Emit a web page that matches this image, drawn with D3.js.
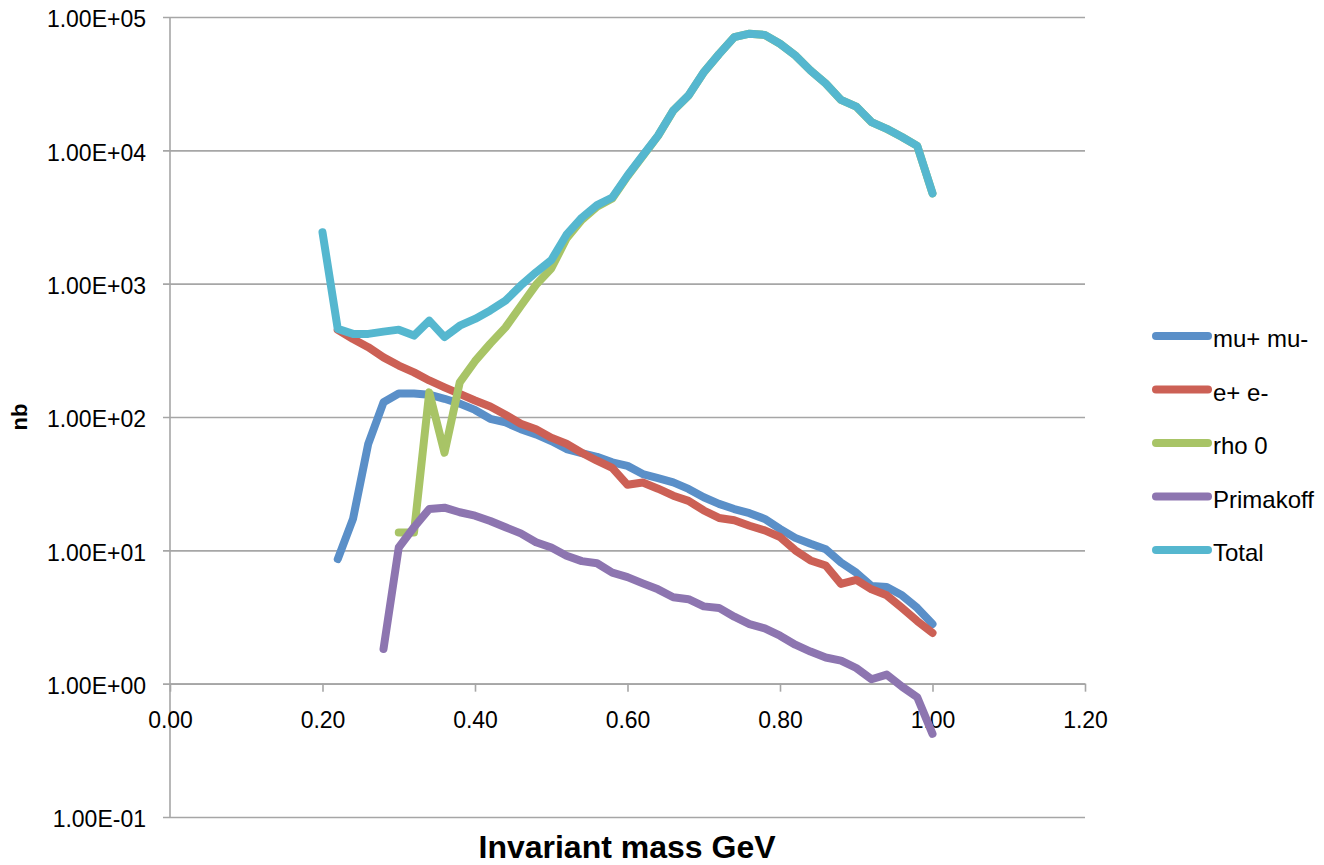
<!DOCTYPE html>
<html>
<head>
<meta charset="utf-8">
<script src="https://cdn.jsdelivr.net/npm/d3@7"></script>
<style>
  html, body { margin: 0; padding: 0; background: #fff; }
  svg { display: block; font-family: "Liberation Sans", Arial, sans-serif; }
</style>
</head>
<body>
<svg id="chart" width="1324" height="865"></svg>
<script>
// Invariant mass bins (GeV)
const mass = [0.20, 0.22, 0.24, 0.26, 0.28, 0.30, 0.32, 0.34, 0.36, 0.38,
              0.40, 0.42, 0.44, 0.46, 0.48, 0.50, 0.52, 0.54, 0.56, 0.58,
              0.60, 0.62, 0.64, 0.66, 0.68, 0.70, 0.72, 0.74, 0.76, 0.78,
              0.80, 0.82, 0.84, 0.86, 0.88, 0.90, 0.92, 0.94, 0.96, 0.98, 1.00];

// Cross sections in nb (null = no entry for that bin)
const muMu = [null, 8.6, 17.2, 63, 129, 150, 150, 147, 137, 126,
              113, 97, 91, 81, 74, 66, 57.5, 53.5, 50.3, 45.7,
              43, 37.3, 34.8, 32.3, 28.9, 25, 22.3, 20.4, 19, 17.2,
              14.5, 12.4, 11.2, 10.2, 8.1, 6.8, 5.4, 5.3, 4.6, 3.7, 2.8];

const eE = [null, 450, 385, 334, 280, 243, 216, 188, 167, 149,
            133, 120, 104, 89, 81, 70, 63, 54, 47, 41.5,
            31, 32.3, 29, 25.7, 23.5, 19.9, 17.5, 16.8, 15.3, 14.1,
            12.6, 10, 8.4, 7.7, 5.6, 6.0, 5.1, 4.6, 3.7, 2.95, 2.4];

const rho0 = [null, null, null, null, null, 13.6, 13.6, 153, 54, 182,
              262, 355, 470, 680, 980, 1300, 2180, 3000, 3780, 4350,
              6390, 9060, 12830, 19830, 25740, 38450, 52650, 70560, 74960, 73370,
              62980, 51480, 39680, 31680, 23885, 21287, 16289, 14490, 12591, 10792, 4755];

const primakoff = [null, null, null, null, 1.82, 10.5, 14.9, 20.4, 20.9, 19.3,
                   18.2, 16.6, 14.9, 13.4, 11.5, 10.5, 9.1, 8.3, 8.0, 6.8,
                   6.3, 5.65, 5.1, 4.45, 4.3, 3.8, 3.7, 3.18, 2.8, 2.6,
                   2.29, 1.96, 1.74, 1.57, 1.49, 1.31, 1.08, 1.17, 0.95, 0.79, 0.42];

const total = [2430, 458, 420, 420, 437, 452, 408, 528, 397, 484,
               544, 630, 745, 967, 1217, 1500, 2330, 3120, 3880, 4430,
               6470, 9140, 12900, 19900, 25800, 38500, 52700, 70600, 75000, 73400,
               63000, 51500, 39700, 31700, 23900, 21300, 16300, 14500, 12600, 10800, 4760];

const seriesNames = ["mu+ mu-", "e+ e-", "rho 0", "Primakoff", "Total"];
const seriesValues = [muMu, eE, rho0, primakoff, total];
const seriesColors = ["#5A8FC8", "#CC6055", "#A8C466", "#8D75B0", "#55B7CF"];

// Axis ticks
const xTicks = [0.00, 0.20, 0.40, 0.60, 0.80, 1.00, 1.20];
const xTickLabels = ["0.00", "0.20", "0.40", "0.60", "0.80", "1.00", "1.20"];
const yTicks = [1e-1, 1e0, 1e1, 1e2, 1e3, 1e4, 1e5];
const yTickLabels = ["1.00E-01", "1.00E+00", "1.00E+01", "1.00E+02", "1.00E+03", "1.00E+04", "1.00E+05"];

const svg = d3.select("#chart");
const plot = { left: 170, right: 1085, top: 17, bottom: 817 };

const x = d3.scaleLinear().domain([0, 1.2]).range([plot.left, plot.right]);
const y = d3.scaleLog().domain([0.1, 1e5]).range([plot.bottom, plot.top]);

const gridColor = "#A6A6A6";
const lineWidth = 8;

// Horizontal gridlines (with the small left tick)
const yAxis = d3.axisLeft(y)
  .tickValues(yTicks)
  .tickSize(-(plot.right - plot.left))
  .tickFormat((d, i) => yTickLabels[i]);

const gy = svg.append("g")
  .attr("transform", `translate(${plot.left},0)`)
  .call(yAxis);
gy.select(".domain").remove();
gy.selectAll(".tick line")
  .attr("x1", -7)
  .attr("stroke", gridColor)
  .attr("stroke-width", 1.6);
gy.selectAll(".tick text")
  .attr("x", -24)
  .attr("dy", "0.42em")
  .attr("fill", "#000")
  .style("font-size", "23px")
  .style("font-family", "'Liberation Sans', Arial, sans-serif");

// Vertical axis line
svg.append("line")
  .attr("x1", plot.left).attr("x2", plot.left)
  .attr("y1", plot.top).attr("y2", plot.bottom)
  .attr("stroke", gridColor).attr("stroke-width", 1.6);

// Horizontal axis sits at 1 nb
const xAxis = d3.axisBottom(x)
  .tickValues(xTicks)
  .tickSize(8)
  .tickSizeOuter(0)
  .tickFormat((d, i) => xTickLabels[i]);

const gx = svg.append("g")
  .attr("transform", `translate(0,${y(1)})`)
  .call(xAxis);
gx.select(".domain").attr("stroke", gridColor).attr("stroke-width", 1.6);
gx.selectAll(".tick line").attr("stroke", gridColor).attr("stroke-width", 1.6);
gx.selectAll(".tick text")
  .attr("y", 28)
  .attr("dy", "0.71em")
  .attr("fill", "#000")
  .style("font-size", "23px")
  .style("font-family", "'Liberation Sans', Arial, sans-serif");

// Series lines
const line = d3.line()
  .defined(d => d.v !== null)
  .x(d => x(d.m))
  .y(d => y(d.v));

seriesValues.forEach((vals, k) => {
  const pts = mass.map((m, i) => ({ m, v: vals[i] }));
  svg.append("path")
    .datum(pts)
    .attr("fill", "none")
    .attr("stroke", seriesColors[k])
    .attr("stroke-width", lineWidth)
    .attr("stroke-linejoin", "round")
    .attr("stroke-linecap", "round")
    .attr("d", line);
});

// Legend
const legendTop = 336, legendStep = 53.5;
const legend = svg.append("g");
seriesNames.forEach((name, k) => {
  const ly = legendTop + k * legendStep;
  legend.append("line")
    .attr("x1", 1156).attr("x2", 1208)
    .attr("y1", ly).attr("y2", ly)
    .attr("stroke", seriesColors[k])
    .attr("stroke-width", lineWidth)
    .attr("stroke-linecap", "round");
  legend.append("text")
    .attr("x", 1213).attr("y", ly + 11)
    .style("font-size", "24px")
    .text(name);
});

// Axis titles
svg.append("text")
  .attr("x", 627).attr("y", 858)
  .attr("text-anchor", "middle")
  .style("font-size", "32px")
  .style("font-weight", "bold")
  .text("Invariant mass GeV");

svg.append("text")
  .attr("transform", "translate(27,417) rotate(-90)")
  .attr("text-anchor", "middle")
  .style("font-size", "22px")
  .style("font-weight", "bold")
  .text("nb");
</script>
</body>
</html>
